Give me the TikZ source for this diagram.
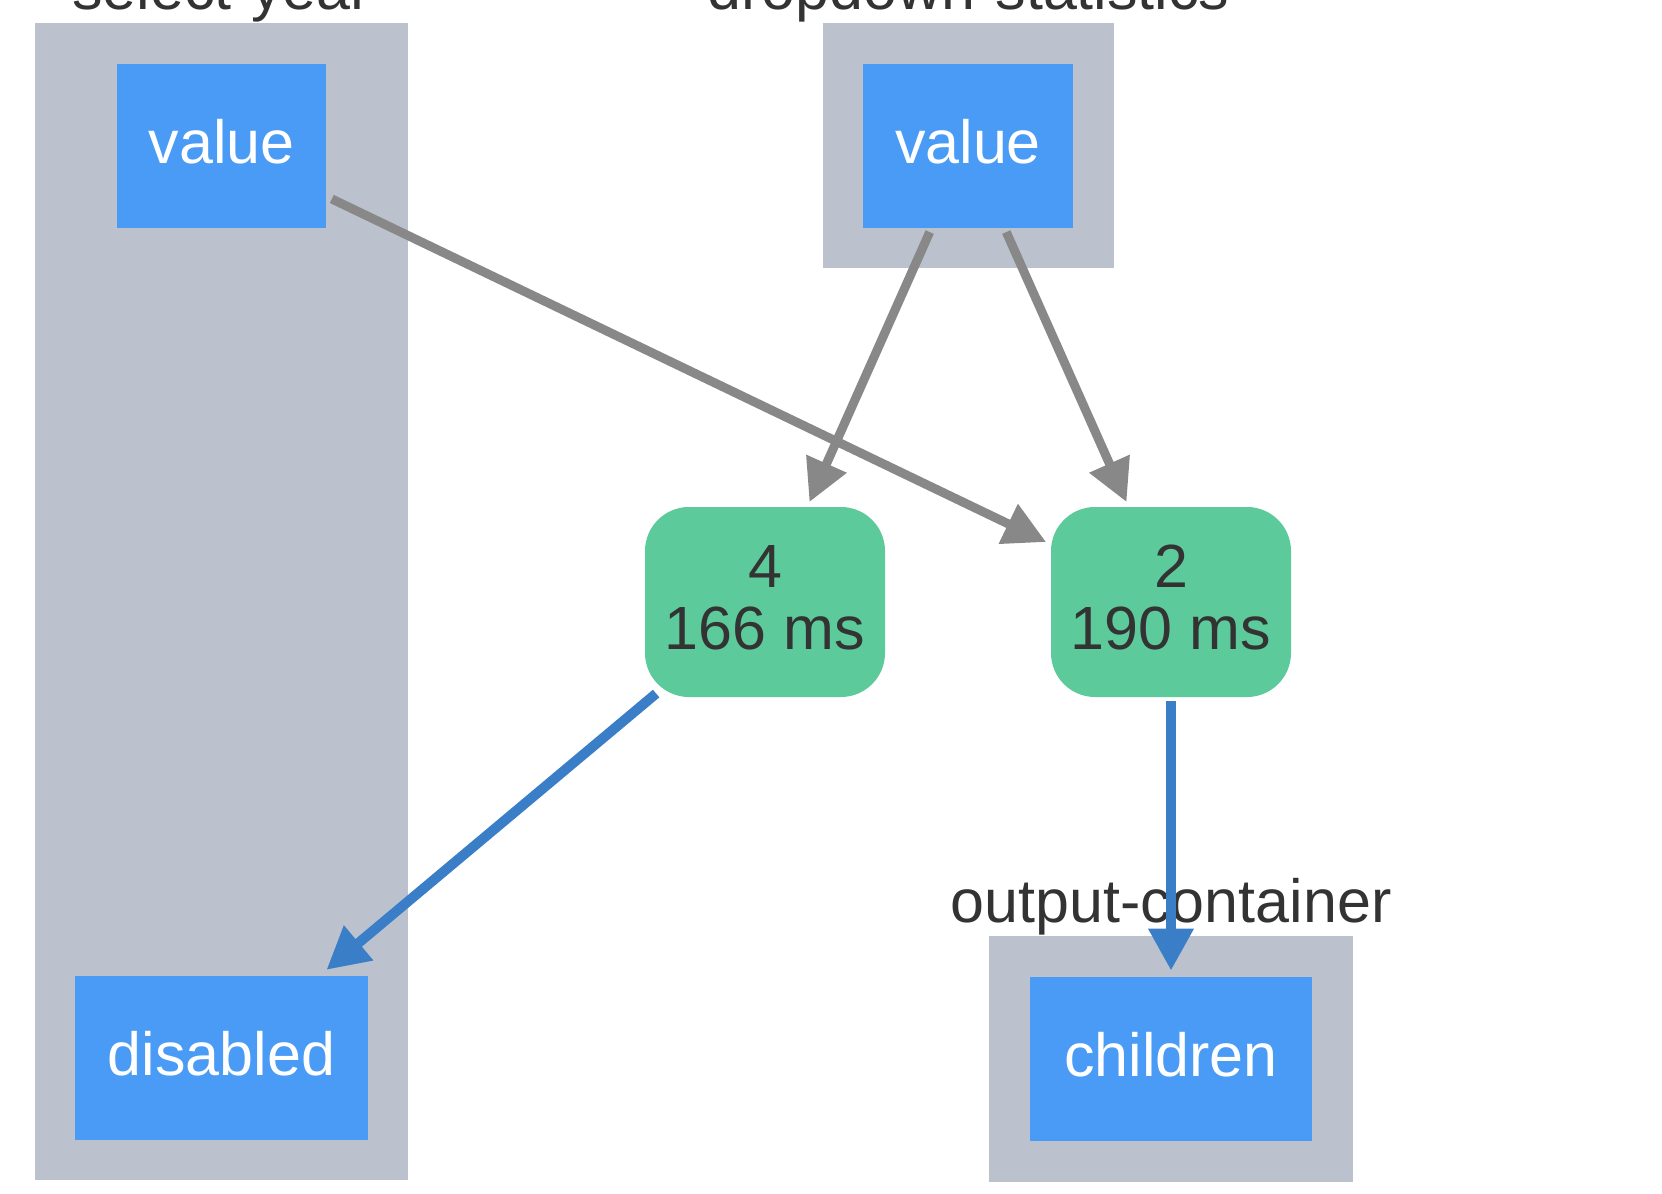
\documentclass[tikz,border=0pt]{standalone}
\usepackage{fontspec}
\setmainfont{Liberation Sans}
\usetikzlibrary{arrows.meta}
\definecolor{clus}{HTML}{BCC2CD}
\definecolor{prop}{HTML}{4A9BF5}
\definecolor{cbfill}{HTML}{5CCA9B}
\definecolor{edgegray}{HTML}{888888}
\definecolor{edgeblue}{HTML}{3A7EC8}
\definecolor{txt}{HTML}{333333}
\begin{document}
\begin{tikzpicture}[x=0.5pt,y=-0.5pt,
  bigfont/.style={font=\fontsize{30.5}{31}\selectfont},
  cluster/.style={fill=clus, inner sep=0pt},
  propbox/.style={fill=prop, text=white, inner sep=0pt, minimum height=82pt,
    text height=22pt, text depth=5pt, bigfont},
  cbbox/.style={fill=cbfill, rounded corners=22pt, minimum width=120pt, minimum height=95pt,
    inner sep=0pt, align=center, text=txt, bigfont},
  lbl/.style={text=txt, bigfont, anchor=base, inner sep=0pt},
  gedge/.style={draw=edgegray, line width=4.5pt, -{Triangle[length=21pt,width=21pt]}},
  bedge/.style={draw=edgeblue, line width=5pt, -{Triangle[length=21pt,width=21.5pt]}}]
\useasboundingbox (0,0) rectangle (1662,1194);
% clusters
\node[cluster, minimum width=186.5pt, minimum height=578.5pt] (csy) at (221.5,601.5) {};
\node[cluster, minimum width=145.5pt, minimum height=122.5pt] (cds) at (968.5,145.5) {};
\node[cluster, minimum width=182pt, minimum height=123pt] (coc) at (1171,1059) {};
% cluster labels
\node[lbl] (lsy) at (221.5,10) {select-year};
\node[lbl] (lds) at (968.5,10) {dropdown-statistics};
\node[lbl] (loc) at (1171,922) {output-container};
% property nodes
\node[propbox, minimum width=104.5pt] (lv) at (221.5,146) {value};
\node[propbox, minimum width=105pt] (rv) at (968,146) {value};
\node[propbox, minimum width=146.5pt] (dis) at (221.5,1058) {disabled};
\node[propbox, minimum width=141pt] (chi) at (1171,1059) {children};
% callback nodes
\node[cbbox] (n4) at (765,602) {4\\166 ms\rule[-4.5pt]{0pt}{0pt}};
\node[cbbox] (n2) at (1171,602) {2\\190 ms\rule[-4.5pt]{0pt}{0pt}};
% edges
\draw[gedge, shorten <=3pt, shorten >=2.5pt] (lv) -- (n2);
\draw[gedge, shorten <=2pt, shorten >=2.5pt] (rv) -- (n4);
\draw[gedge, shorten <=2pt, shorten >=2.5pt] (rv) -- (n2);
\draw[bedge, shorten <=-3pt, shorten >=4.5pt] (n4) -- (dis);
\draw[bedge, shorten <=2pt, shorten >=3pt] (n2) -- (chi);
\end{tikzpicture}
\end{document}
